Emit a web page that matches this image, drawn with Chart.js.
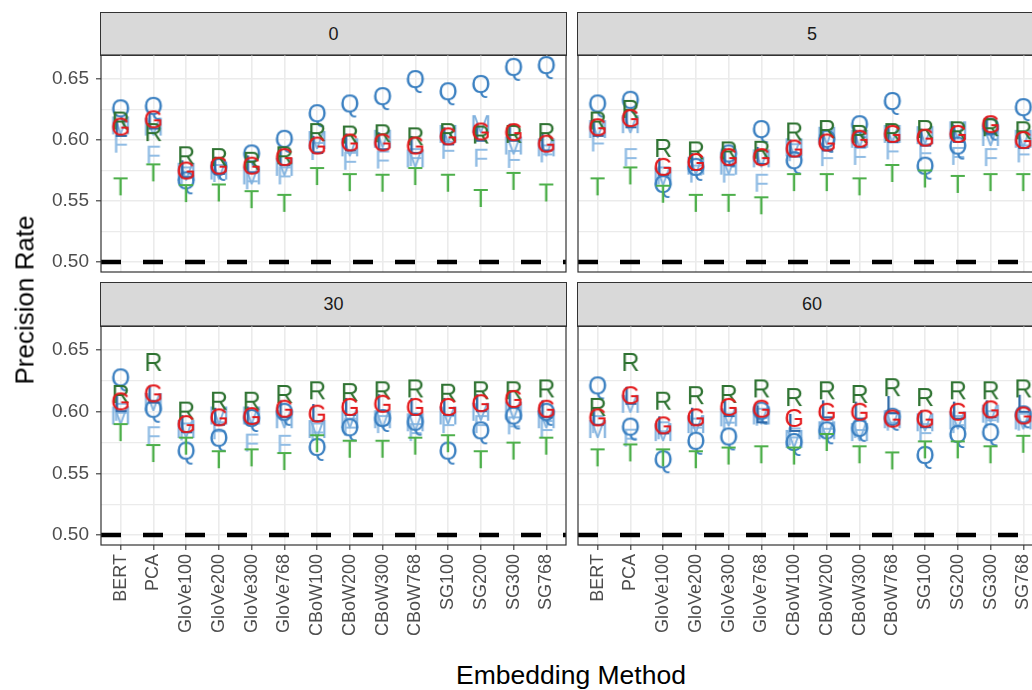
<!DOCTYPE html>
<html lang="en">
<head>
  <meta charset="UTF-8" />
  <title>Precision Rate by Embedding Method</title>
  <script src="https://cdn.jsdelivr.net/npm/chart.js"></script>
  <style>
    body {
      margin: 0;
      width: 1032px;
      height: 690px;
      overflow: hidden;
      position: relative;
      background: #fff;
      font-family: "Liberation Sans", Arial, sans-serif;
    }
    canvas { position: absolute; }
    .strip {
      position: absolute;
      box-sizing: border-box;
      background: #d9d9d9;
      border: 1.2px solid #333;
      color: #1a1a1a;
      font-size: 18px;
      text-align: center;
    }
    .ytitle {
      position: absolute;
      left: 25px;
      top: 300px;
      transform: translate(-50%, -50%) rotate(-90deg);
      font-size: 26px;
      white-space: nowrap;
    }
    .xtitle {
      position: absolute;
      left: 571px;
      top: 675px;
      transform: translate(-50%, -50%);
      font-size: 26.5px;
      white-space: nowrap;
    }
  </style>
</head>
<body>
  <div class="strip" style="left:100px; top:12px; width:467px; height:44px; line-height:42px;">0</div>
  <div class="strip" style="left:577px; top:12px; width:470px; height:44px; line-height:42px;">5</div>
  <div class="strip" style="left:100px; top:282px; width:467px; height:45px; line-height:43px;">30</div>
  <div class="strip" style="left:577px; top:282px; width:470px; height:45px; line-height:43px;">60</div>

  <canvas id="p0" width="571" height="227" style="left:0; top:50px;"></canvas>
  <canvas id="p5" width="475" height="227" style="left:573px; top:50px;"></canvas>
  <canvas id="p30" width="571" height="324" style="left:0; top:321px;"></canvas>
  <canvas id="p60" width="475" height="324" style="left:573px; top:321px;"></canvas>

  <div class="ytitle">Precision Rate</div>
  <div class="xtitle">Embedding Method</div>

  <script>
    // categories
    const methods = ["BERT", "PCA", "GloVe100", "GloVe200", "GloVe300", "GloVe768",
      "CBoW100", "CBoW200", "CBoW300", "CBoW768", "SG100", "SG200", "SG300", "SG768"];

    const yTicks = [0.50, 0.525, 0.55, 0.575, 0.60, 0.625, 0.65];
    const refLine = 0.50;

    // facet 0
    const F_0 = [0.597, 0.588, 0.571, 0.573, 0.567, 0.571, 0.591, 0.583, 0.584, 0.586, 0.592, 0.5855, 0.5845, 0.589];
    const M_0 = [0.612, 0.611, 0.574, 0.575, 0.571, 0.578, 0.600, 0.594, 0.601, 0.585, 0.605, 0.613, 0.5955, 0.594];
    const Q_0 = [0.626, 0.628, 0.567, 0.578, 0.589, 0.601, 0.622, 0.630, 0.636, 0.650, 0.640, 0.646, 0.660, 0.6615];
    const L_0 = [0.610, 0.616, 0.576, 0.579, 0.580, 0.586, 0.596, 0.598, 0.599, 0.596, 0.603, 0.606, 0.606, 0.598];
    const R_0 = [0.616, 0.6065, 0.5875, 0.586, 0.583, 0.5875, 0.6065, 0.6045, 0.6055, 0.603, 0.6065, 0.6045, 0.605, 0.6065];
    const G_0 = [0.611, 0.617, 0.575, 0.579, 0.579, 0.586, 0.5955, 0.598, 0.598, 0.5955, 0.603, 0.607, 0.6065, 0.597];
    const T_0 = [0.562, 0.5735, 0.5565, 0.557, 0.5515, 0.5485, 0.5705, 0.5655, 0.565, 0.5705, 0.565, 0.5525, 0.5665, 0.557];

    // facet 5
    const F_5 = [0.598, 0.586, 0.571, 0.5725, 0.5725, 0.565, 0.590, 0.586, 0.587, 0.5915, 0.590, 0.587, 0.586, 0.589];
    const M_5 = [0.609, 0.613, 0.570, 0.579, 0.579, 0.585, 0.594, 0.6035, 0.601, 0.605, 0.604, 0.608, 0.6025, 0.601];
    const Q_5 = [0.630, 0.633, 0.564, 0.578, 0.589, 0.609, 0.5835, 0.601, 0.613, 0.632, 0.579, 0.5955, 0.611, 0.627];
    const L_5 = [0.610, 0.617, 0.578, 0.582, 0.586, 0.587, 0.593, 0.598, 0.601, 0.605, 0.602, 0.605, 0.612, 0.600];
    const R_5 = [0.616, 0.6255, 0.5935, 0.5915, 0.5915, 0.592, 0.607, 0.609, 0.605, 0.6065, 0.609, 0.608, 0.6105, 0.608];
    const G_5 = [0.6105, 0.618, 0.578, 0.582, 0.586, 0.586, 0.593, 0.598, 0.601, 0.605, 0.602, 0.605, 0.613, 0.600];
    const T_5 = [0.562, 0.571, 0.556, 0.5485, 0.5485, 0.5465, 0.5655, 0.5655, 0.562, 0.573, 0.5685, 0.564, 0.5655, 0.5655];

    // facet 30
    const F_30 = [0.600, 0.581, 0.584, 0.585, 0.575, 0.574, 0.584, 0.588, 0.590, 0.5835, 0.590, 0.590, 0.589, 0.586];
    const M_30 = [0.597, 0.608, 0.586, 0.597, 0.597, 0.594, 0.586, 0.594, 0.594, 0.5915, 0.597, 0.600, 0.601, 0.594];
    const Q_30 = [0.628, 0.6025, 0.5685, 0.579, 0.595, 0.600, 0.5715, 0.5875, 0.595, 0.592, 0.5685, 0.585, 0.597, 0.600];
    const L_30 = [0.607, 0.614, 0.590, 0.596, 0.597, 0.602, 0.599, 0.604, 0.607, 0.604, 0.604, 0.607, 0.610, 0.602];
    const R_30 = [0.6145, 0.6405, 0.601, 0.609, 0.609, 0.6145, 0.6175, 0.616, 0.6175, 0.619, 0.6155, 0.6175, 0.6175, 0.619];
    const G_30 = [0.6085, 0.615, 0.590, 0.5955, 0.5965, 0.6025, 0.5985, 0.604, 0.6065, 0.604, 0.604, 0.607, 0.6105, 0.6025];
    const T_30 = [0.5835, 0.5665, 0.5725, 0.5615, 0.563, 0.560, 0.5745, 0.570, 0.570, 0.5725, 0.5745, 0.5615, 0.5685, 0.5725];

    // facet 60
    const F_60 = [0.590, 0.579, 0.585, 0.588, 0.592, 0.596, 0.580, 0.587, 0.586, 0.592, 0.5835, 0.590, 0.594, 0.592];
    const M_60 = [0.586, 0.6065, 0.5835, 0.590, 0.5955, 0.597, 0.578, 0.585, 0.5835, 0.594, 0.5915, 0.593, 0.5985, 0.593];
    const Q_60 = [0.6215, 0.588, 0.5615, 0.5765, 0.580, 0.601, 0.5755, 0.585, 0.587, 0.596, 0.565, 0.582, 0.5835, 0.598];
    const L_60 = [0.596, 0.613, 0.589, 0.596, 0.603, 0.598, 0.591, 0.602, 0.601, 0.6055, 0.594, 0.601, 0.602, 0.6065];
    const R_60 = [0.604, 0.6405, 0.609, 0.6135, 0.6145, 0.619, 0.612, 0.6175, 0.6145, 0.620, 0.612, 0.6175, 0.6175, 0.619];
    const G_60 = [0.5955, 0.6135, 0.589, 0.5955, 0.604, 0.6025, 0.595, 0.600, 0.600, 0.5945, 0.5945, 0.600, 0.602, 0.597];
    const T_60 = [0.563, 0.567, 0.563, 0.5615, 0.5645, 0.5655, 0.5645, 0.5755, 0.5655, 0.5605, 0.5695, 0.5695, 0.5655, 0.574];

    const letterColors = {
      F: "#90bce4", M: "#80b1de", Q: "#3b80c1", L: "#2f6aa9",
      R: "#2e7231", G: "#e41a1c", T: "#4daf4a"
    };
    const FONT = '"Liberation Sans", Arial, sans-serif';
    const LETTER_SIZE = 25;

    // letter glyph as a point style image, cap-height centred
    function letterImage(ch) {
      const c = document.createElement("canvas");
      c.width = 44; c.height = 44;
      const g = c.getContext("2d");
      g.font = LETTER_SIZE + "px " + FONT;
      g.fillStyle = letterColors[ch];
      g.textAlign = "center";
      g.textBaseline = "alphabetic";
      g.fillText(ch, 22, 22 + LETTER_SIZE * 0.716 / 2);
      return c;
    }

    const isMajor = v => Math.abs(v * 20 - Math.round(v * 20)) < 1e-6;

    const noPad = s => { s.paddingTop = 0; s.paddingBottom = 0; s.paddingLeft = 0; s.paddingRight = 0; };

    const panelBorder = {
      id: "panelBorder",
      afterDraw(chart) {
        const { ctx, chartArea: a } = chart;
        ctx.save();
        ctx.strokeStyle = "#333333";
        ctx.lineWidth = 1.2;
        ctx.strokeRect(a.left, a.top, a.right - a.left, a.bottom - a.top);
        ctx.restore();
      }
    };

    function makePanel(id, series, showY, showX) {
      // bottom to top drawing order
      const stack = [["F", series.F], ["M", series.M], ["Q", series.Q], ["L", series.L],
        ["R", series.R], ["G", series.G], ["T", series.T]];
      const datasets = stack.map(([ch, vals], i) => ({
        type: "scatter",
        label: ch,
        data: vals.map((v, k) => ({ x: k, y: v })),
        pointStyle: letterImage(ch),
        pointRadius: 3,
        order: 20 - i,
        clip: false
      }));
      datasets.push({
        type: "line",
        label: "ref",
        data: [{ x: -0.6, y: refLine }, { x: methods.length - 0.4, y: refLine }],
        borderColor: "#000",
        borderWidth: 4.5,
        borderDash: [20, 22],
        borderCapStyle: "butt",
        pointRadius: 0,
        order: 30
      });

      new Chart(document.getElementById(id), {
        data: { datasets },
        plugins: [panelBorder],
        options: {
          responsive: false,
          animation: false,
          events: [],
          layout: { padding: { top: 2, right: 2, bottom: showX ? 0 : 2, left: showY ? 0 : 2 } },
          plugins: { legend: { display: false }, tooltip: { enabled: false } },
          scales: {
            x: {
              type: "linear",
              min: -0.6,
              max: methods.length - 0.4,
              afterBuildTicks: s => { s.ticks = methods.map((m, k) => ({ value: k })); },
              afterFit: s => { s.height = showX ? 100 : 0; noPad(s); },
              border: { display: false },
              grid: {
                color: "#ebebeb",
                lineWidth: 1.6,
                drawTicks: showX,
                tickLength: 5,
                tickColor: "#333333",
                tickWidth: 1.1
              },
              ticks: {
                display: showX,
                autoSkip: false,
                minRotation: 90,
                maxRotation: 90,
                padding: 4,
                color: "#4d4d4d",
                font: { family: FONT, size: 18 },
                callback: v => methods[v]
              }
            },
            y: {
              type: "linear",
              min: 0.4918,
              max: 0.6697,
              afterBuildTicks: s => { s.ticks = yTicks.map(v => ({ value: v })); },
              afterFit: s => { s.width = showY ? 101 : 0; noPad(s); },
              border: { display: false },
              grid: {
                color: "#ebebeb",
                lineWidth: c => (c.tick && isMajor(c.tick.value)) ? 1.6 : 1.2,
                drawTicks: showY,
                tickLength: 5,
                tickColor: c => (c.tick && isMajor(c.tick.value)) ? "#333333" : "rgba(0,0,0,0)",
                tickWidth: 1.1
              },
              ticks: {
                display: showY,
                padding: 7,
                color: "#4d4d4d",
                font: { family: FONT, size: 19 },
                callback: v => isMajor(v) ? v.toFixed(2) : ""
              }
            }
          }
        }
      });
    }

    makePanel("p0", { F: F_0, M: M_0, Q: Q_0, L: L_0, R: R_0, G: G_0, T: T_0 }, true, false);
    makePanel("p5", { F: F_5, M: M_5, Q: Q_5, L: L_5, R: R_5, G: G_5, T: T_5 }, false, false);
    makePanel("p30", { F: F_30, M: M_30, Q: Q_30, L: L_30, R: R_30, G: G_30, T: T_30 }, true, true);
    makePanel("p60", { F: F_60, M: M_60, Q: Q_60, L: L_60, R: R_60, G: G_60, T: T_60 }, false, true);
  </script>
</body>
</html>
